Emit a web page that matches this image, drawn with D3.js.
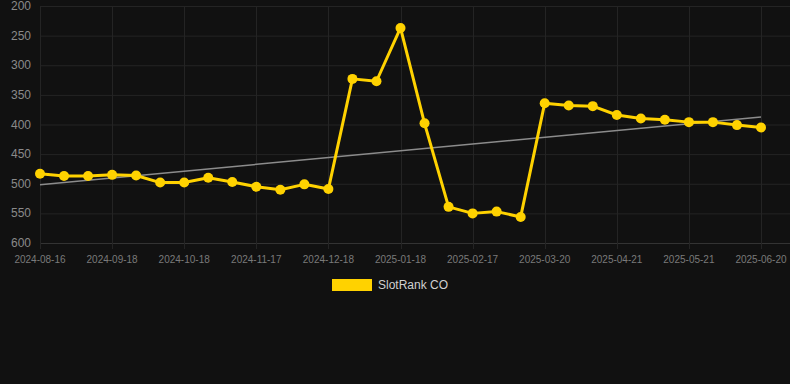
<!DOCTYPE html>
<html>
<head>
<meta charset="utf-8">
<script src="https://cdn.jsdelivr.net/npm/d3@7"></script>
<style>
  html, body { margin: 0; padding: 0; background: #111111; }
  svg { display: block; font-family: "Liberation Sans", Arial, sans-serif; }
</style>
</head>
<body>
<svg id="chart" width="790" height="384"></svg>
<script>
// dates (one per point) and ranks
const dates = [
  '2024-08-16', '2024-08-27', '2024-09-07', '2024-09-18', '2024-09-28', '2024-10-08',
  '2024-10-18', '2024-10-28', '2024-11-07', '2024-11-17', '2024-11-27', '2024-12-08',
  '2024-12-18', '2024-12-28', '2025-01-08', '2025-01-18', '2025-01-28', '2025-02-07',
  '2025-02-17', '2025-02-27', '2025-03-10', '2025-03-20', '2025-03-31', '2025-04-10',
  '2025-04-21', '2025-05-01', '2025-05-11', '2025-05-21', '2025-05-31', '2025-06-10',
  '2025-06-20'];
const ranks = [
  483, 487, 487, 485, 486, 498,
  498, 490, 497, 505, 510, 501,
  509, 323, 327, 237, 398, 539,
  550, 547, 556, 364, 368, 369,
  384, 390, 392, 396, 396, 401,
  405];
const yTicks = [200, 250, 300, 350, 400, 450, 500, 550, 600];
const seriesName = 'SlotRank CO';

const W = 790, H = 384;
const margin = {left: 40, right: 29, top: 6, bottom: 141};
const svg = d3.select('#chart');

let x = d3.scalePoint()
  .domain(dates)
  .range([margin.left, W - margin.right]);

let y = d3.scaleLinear()
  .domain([200, 600])
  .range([margin.top, H - margin.bottom]);

/*网格*/
let grid = svg.append('g');
grid.selectAll('line.h')
  .data(yTicks)
  .enter()
  .append('line')
  .attr('x1', margin.left)
  .attr('x2', W)
  .attr('y1', d => y(d) + 0.5)
  .attr('y2', d => y(d) + 0.5)
  .attr('stroke', d => d === 600 ? '#333' : '#242424')
  .attr('stroke-width', 1);

let shownDates = dates.filter((d, i) => i % 3 === 0);
grid.selectAll('line.v')
  .data(shownDates)
  .enter()
  .append('line')
  .attr('x1', d => Math.round(x(d)) + 0.5)
  .attr('x2', d => Math.round(x(d)) + 0.5)
  .attr('y1', margin.top)
  .attr('y2', y(600) + 6)
  .attr('stroke', '#242424')
  .attr('stroke-width', 1);

/*y轴标签*/
svg.append('g')
  .selectAll('text')
  .data(yTicks)
  .enter()
  .append('text')
  .attr('x', 31)
  .attr('y', d => y(d) + 4)
  .attr('text-anchor', 'end')
  .style('font-size', '12px')
  .attr('fill', '#8a8a8a')
  .text(d => d);

/*x轴标签*/
svg.append('g')
  .selectAll('text')
  .data(shownDates)
  .enter()
  .append('text')
  .attr('x', d => x(d))
  .attr('y', y(600) + 20)
  .attr('text-anchor', 'middle')
  .style('font-size', '10px')
  .attr('fill', '#7a7a7a')
  .text(d => d);

/*趋势线 (最小二乘)*/
let n = ranks.length;
let mx = d3.mean(d3.range(n));
let my = d3.mean(ranks);
let sxy = d3.sum(ranks, (v, i) => (i - mx) * (v - my));
let sxx = d3.sum(d3.range(n), i => (i - mx) * (i - mx));
let slope = sxy / sxx;
let trend = [0, n - 1].map(i => ({d: dates[i], v: my + slope * (i - mx)}));

svg.append('path')
  .datum(trend)
  .attr('d', d3.line().x(p => x(p.d)).y(p => y(p.v)))
  .attr('fill', 'none')
  .attr('stroke', '#8c8c8c')
  .attr('stroke-width', 1.5);

/*折线*/
let pts = dates.map((d, i) => ({d: d, v: ranks[i]}));
svg.append('path')
  .datum(pts)
  .attr('d', d3.line().x(p => x(p.d)).y(p => y(p.v)))
  .attr('fill', 'none')
  .attr('stroke', '#FFD200')
  .attr('stroke-width', 3)
  .attr('stroke-linejoin', 'round');

svg.append('g')
  .selectAll('circle')
  .data(pts)
  .enter()
  .append('circle')
  .attr('cx', p => x(p.d))
  .attr('cy', p => y(p.v))
  .attr('r', 5)
  .attr('fill', '#FFD200');

/*图例*/
let legend = svg.append('g');
legend.append('rect')
  .attr('x', 332)
  .attr('y', 279)
  .attr('width', 40)
  .attr('height', 12)
  .attr('fill', '#FFD200');
legend.append('text')
  .attr('x', 378)
  .attr('y', 289)
  .style('font-size', '12px')
  .attr('fill', '#d0d0d0')
  .text(seriesName);
</script>
</body>
</html>
